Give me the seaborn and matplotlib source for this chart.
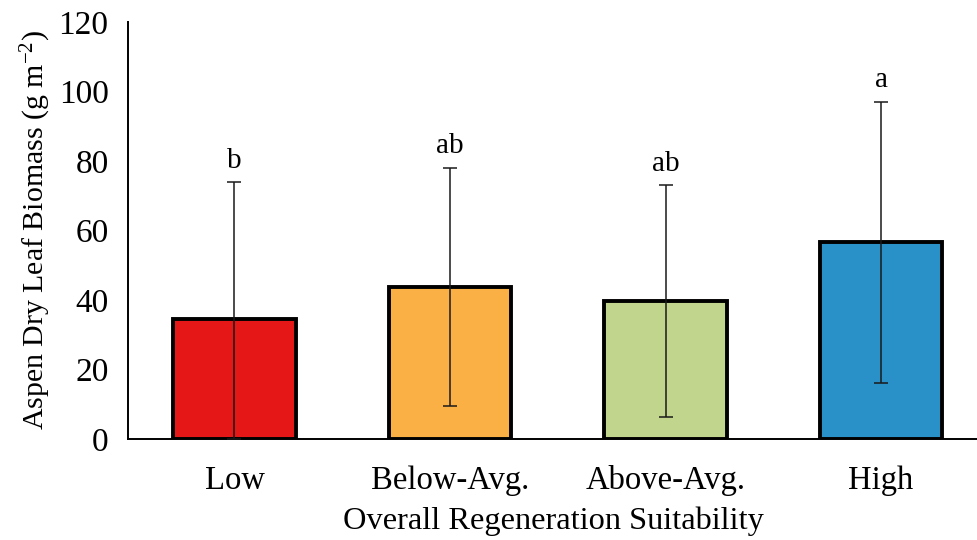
import matplotlib
matplotlib.use("Agg")
import matplotlib.pyplot as plt
import seaborn as sns
import pandas as pd
import numpy as np

# Mean aspen dry leaf biomass by overall regeneration suitability class
categories = ["Low", "Below-Avg.", "Above-Avg.", "High"]
biomass_mean = [34.5, 43.8, 39.7, 56.6]
biomass_sd = [39.5, 34.3, 33.3, 40.5]
letters = ["b", "ab", "ab", "a"]
bar_colors = ["#E51817", "#FBB046", "#C1D58D", "#2A91C8"]

df = pd.DataFrame({"suitability": categories, "biomass": biomass_mean})

sns.set_style("white")
plt.rcParams["font.family"] = ["Liberation Serif", "DejaVu Serif"]
plt.rcParams["mathtext.fontset"] = "custom"
plt.rcParams["mathtext.rm"] = "Liberation Serif"
plt.rcParams["mathtext.it"] = "Liberation Serif:italic"
plt.rcParams["text.color"] = "black"
plt.rcParams["axes.labelcolor"] = "black"
plt.rcParams["xtick.color"] = "black"
plt.rcParams["ytick.color"] = "black"

fig = plt.figure(figsize=(9.78, 5.40), dpi=100)
ax = fig.add_axes([0.1309, 0.187, 0.8691, 0.7723])

sns.barplot(data=df, x="suitability", y="biomass", hue="suitability",
            palette=bar_colors, legend=False, width=0.57,
            edgecolor="black", linewidth=2.8, saturation=1, ax=ax)

# error bars (lower whisker clipped at zero)
x = np.arange(len(categories))
mean = np.array(biomass_mean)
sd = np.array(biomass_sd)
lower = np.minimum(sd, mean)
ax.errorbar(x, mean, yerr=[lower, sd], fmt="none", ecolor="#1a1a1a",
            elinewidth=1.1, capsize=4.7, capthick=1.1, zorder=5)

# significance letters above the error bars
for xi, m, s, lab in zip(x, mean, sd, letters):
    ax.text(xi, m + s + 4.1, lab, ha="center", va="baseline", fontsize=21)

ax.set_ylim(0, 120)
ax.set_xlim(-0.494, 3.45)
ax.set_yticks(np.arange(0, 121, 20))
ax.tick_params(axis="both", length=0)
ax.tick_params(axis="y", pad=14, labelsize=24)
ax.tick_params(axis="x", pad=19, labelsize=23.5)

ax.set_ylabel("Aspen Dry Leaf Biomass (g m$^{-2}$)", fontsize=21.5, labelpad=4)
ax.set_xlabel("Overall Regeneration Suitability", fontsize=23.3, labelpad=7)

for side in ["top", "right"]:
    ax.spines[side].set_visible(False)
for side in ["left", "bottom"]:
    ax.spines[side].set_color("black")
    ax.spines[side].set_linewidth(1.4)

fig.savefig("out.png", dpi=100)
